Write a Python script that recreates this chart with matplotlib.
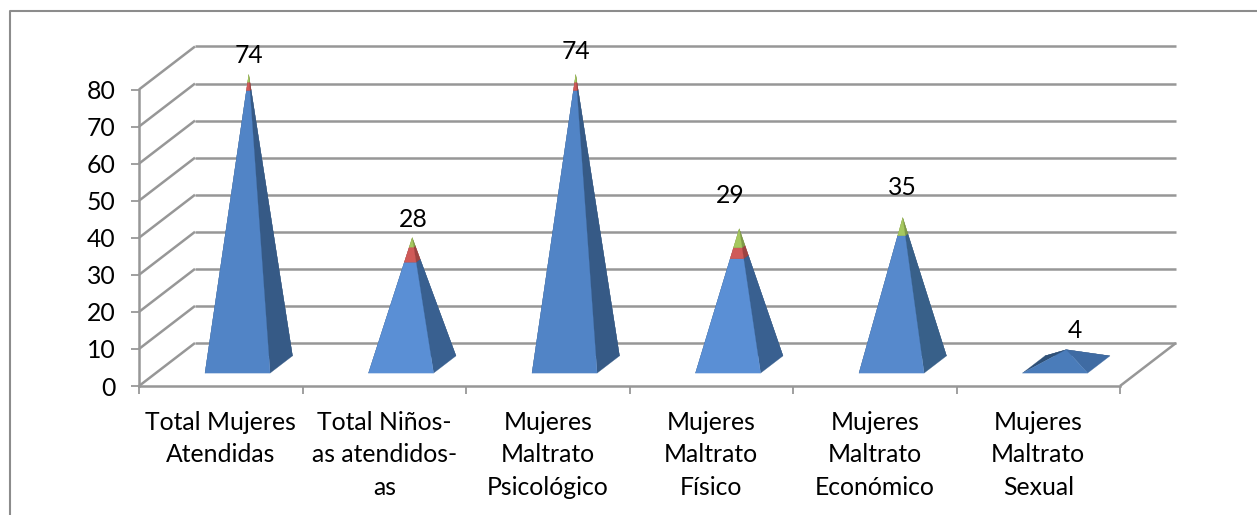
import matplotlib
matplotlib.use('Agg')
import matplotlib.pyplot as plt
from matplotlib.lines import Line2D
from matplotlib.patches import Polygon

plt.rcParams['font.family'] = ['Lato', 'DejaVu Sans']

categories = ['Total Mujeres\nAtendidas', 'Total Niños-\nas atendidos-\nas',
              'Mujeres\nMaltrato\nPsicológico', 'Mujeres\nMaltrato\nFísico',
              'Mujeres\nMaltrato\nEconómico', 'Mujeres\nMaltrato\nSexual']
blue_values = [74, 28, 74, 29, 35, 4]
red_values = [2.2, 3.8, 2.2, 2.8, 0, 0]
green_values = [2, 2.4, 2, 4.8, 4.6, 0]
y_ticks = [0, 10, 20, 30, 40, 50, 60, 70, 80]

W, H = 1257, 515
GRID = '#979797'
FONT = 17.8
DEPTH_X = 56 / 163.5
DEPTH_V = 43 / 3.706
HALF = 0.199
Z_FRONT, Z_BACK = 0.3, 0.7

# label offsets from the apex, in pixels
label_dx = [0, 1, 0, -9, 0, 9]
label_dy = [19, 18, 23, 33, 30, 19]

# the blue shade shifts a little from one pyramid to the next
blue_front = ['#5184c6', '#5a8fd5', '#5184c6', '#5a8fd5', '#5689cc', '#4a7cba']
blue_right = ['#365a86', '#396090', '#365a86', '#396090', '#386089', '#3f6ba3']

fig = plt.figure(figsize=(W / 100, H / 100), dpi=100, facecolor='white')
ax = fig.add_axes([139 / W, 1 - 386 / H, 981 / W, 296.5 / H])
ax.set_xlim(0, 6)
ax.set_ylim(0, 80)
ax.patch.set_visible(False)

# chart frame, only left and top are inside the picture
fig.add_artist(Line2D([10 / W, 10 / W, 1], [0, 1 - 11 / H, 1 - 11 / H], color='#8c8c8c',
                      lw=1.5, transform=fig.transFigure))


def project(x, z, v):
    return x + z * DEPTH_X, v + z * DEPTH_V


def line(p, q):
    ax.plot([p[0], q[0]], [p[1], q[1]], color=GRID, lw=1.8, clip_on=False,
            solid_capstyle='butt', zorder=1)


for v in y_ticks:
    line((0, v), project(0, 1, v))
    line(project(0, 1, v), project(6, 1, v))
line((6, 0), project(6, 1, 0))


def level_point(cx, side, z, level, total):
    # corner of the pyramid section at height level
    f = level / total
    x = cx + side * HALF * (1 - f)
    zz = z + (0.5 - z) * f
    return project(x, zz, level)


def draw_section(cx, low, high, total, front, right, back):
    corners = [(-1, Z_FRONT), (1, Z_FRONT), (1, Z_BACK), (-1, Z_BACK)]
    lo = [level_point(cx, s, z, low, total) for s, z in corners]
    hi = [level_point(cx, s, z, high, total) for s, z in corners]
    # back, left, then right and front
    for a, b, col, zo in [(2, 3, back, 3), (3, 0, back, 3), (1, 2, right, 4), (0, 1, front, 5)]:
        ax.add_patch(Polygon([lo[a], lo[b], hi[b], hi[a]], closed=True, facecolor=col,
                             edgecolor=col, linewidth=0.2, clip_on=False, zorder=zo))


for i, name in enumerate(categories):
    cx = i + 0.5
    total = blue_values[i] + red_values[i] + green_values[i]
    b = blue_values[i]
    r = b + red_values[i]
    draw_section(cx, 0, b, total, blue_front[i], blue_right[i], '#2f5077')
    if red_values[i] > 0:
        draw_section(cx, b, r, total, '#cf5a58', '#9c4341', '#8a3a38')
    if green_values[i] > 0:
        draw_section(cx, r, total, total, '#a6c85f', '#7f9a48', '#73893f')
    apex = project(cx, 0.5, total)
    ax.annotate(str(blue_values[i]), xy=apex, xytext=(label_dx[i] * 0.72, label_dy[i] * 0.72),
                textcoords='offset points', ha='center', va='center', fontsize=FONT,
                color='black', annotation_clip=False, zorder=6)

ax.set_xticks(range(7))
ax.set_xticklabels([])
ax.set_xticks([i + 0.5 for i in range(6)], minor=True)
ax.set_xticklabels(categories, minor=True, fontsize=FONT, linespacing=1.49, ha='center', va='top')
ax.set_yticks(y_ticks)
ax.tick_params(axis='x', which='major', length=6, width=1.3, color=GRID, direction='out')
ax.tick_params(axis='x', which='minor', length=0, pad=18)
ax.tick_params(axis='y', length=5.5, width=1.3, color=GRID, labelsize=FONT, pad=11.5)
for side in ['top', 'right']:
    ax.spines[side].set_visible(False)
for side in ['left', 'bottom']:
    ax.spines[side].set_color(GRID)
    ax.spines[side].set_linewidth(1.8)

fig.savefig('out.png', dpi=100)
